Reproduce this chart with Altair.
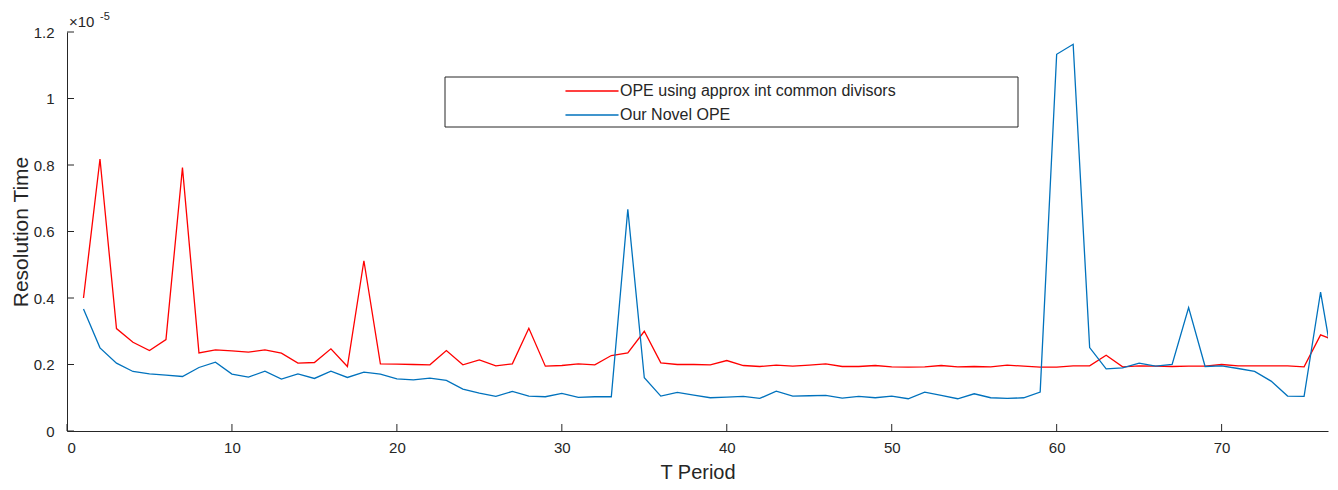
import altair as alt
import pandas as pd

# T period values (x axis)
t_period = list(range(1, 78))

# Resolution time, in units of 1e-5
ope_approx = [
    0.400, 0.818, 0.308, 0.267, 0.242, 0.275, 0.792, 0.235, 0.244, 0.241,
    0.237, 0.244, 0.234, 0.204, 0.206, 0.247, 0.194, 0.512, 0.202, 0.201,
    0.200, 0.199, 0.242, 0.199, 0.214, 0.196, 0.202, 0.309, 0.195, 0.197,
    0.202, 0.199, 0.227, 0.235, 0.300, 0.205, 0.200, 0.200, 0.199, 0.212,
    0.197, 0.194, 0.198, 0.195, 0.198, 0.202, 0.194, 0.194, 0.197, 0.193,
    0.192, 0.193, 0.197, 0.193, 0.194, 0.193, 0.198, 0.195, 0.192, 0.192,
    0.196, 0.196, 0.228, 0.193, 0.196, 0.195, 0.194, 0.195, 0.195, 0.200,
    0.196, 0.196, 0.196, 0.196, 0.193, 0.289, 0.270,
]
ope_novel = [
    0.367, 0.250, 0.204, 0.179, 0.172, 0.168, 0.164, 0.191, 0.207, 0.171,
    0.162, 0.180, 0.156, 0.172, 0.158, 0.180, 0.161, 0.177, 0.171, 0.157,
    0.154, 0.159, 0.152, 0.126, 0.114, 0.104, 0.119, 0.105, 0.103, 0.113,
    0.101, 0.103, 0.103, 0.667, 0.160, 0.105, 0.116, 0.108, 0.100, 0.102,
    0.104, 0.098, 0.120, 0.105, 0.106, 0.107, 0.099, 0.104, 0.100, 0.105,
    0.097, 0.117, 0.107, 0.097, 0.112, 0.100, 0.098, 0.100, 0.117, 1.133,
    1.163, 0.251, 0.187, 0.190, 0.204, 0.195, 0.200, 0.371, 0.194, 0.196,
    0.188, 0.179, 0.150, 0.105, 0.104, 0.418, 0.130,
]

series_names = ["OPE using approx int common divisors", "Our Novel OPE"]
series_colors = ["#FF0000", "#0072BD"]

x_ticks = [0, 10, 20, 30, 40, 50, 60, 70]
y_ticks = [0, 0.2, 0.4, 0.6, 0.8, 1.0, 1.2]

df = pd.DataFrame({
    "T": t_period * 2,
    "value": ope_approx + ope_novel,
    "series": [series_names[0]] * len(t_period) + [series_names[1]] * len(t_period),
})

FONT = "Liberation Sans"
AX = "#262626"
W, H = 1261, 399

xscale = alt.Scale(domain=[0, 76.45], nice=False, zero=False)
yscale = alt.Scale(domain=[0, 1.2], nice=False)

box = alt.Chart(pd.DataFrame({"a": [0]})).mark_rect(
    fill="white", stroke=AX, strokeWidth=1
).encode(x=alt.value(378), x2=alt.value(951), y=alt.value(45), y2=alt.value(95))

lines = alt.Chart(df).mark_line(strokeWidth=1.3, clip=True).encode(
    x=alt.X("T:Q", scale=xscale,
            axis=alt.Axis(values=x_ticks, title="T Period", ticks=False, tickSize=0,
                          labelPadding=9, titlePadding=7, titleFontSize=20, grid=False)),
    y=alt.Y("value:Q", scale=yscale,
            axis=alt.Axis(values=y_ticks, title="Resolution Time", format=".1~f",
                          ticks=False, tickSize=0, labelPadding=13, titlePadding=2,
                          titleFontSize=21, grid=False)),
    color=alt.Color("series:N",
                    scale=alt.Scale(domain=series_names, range=series_colors),
                    sort=series_names,
                    legend=alt.Legend(title=None, orient="none", legendX=517, legendY=51,
                                      symbolType="M-4,0H4", symbolSize=176,
                                      symbolStrokeWidth=1.3, symbolFillColor="transparent",
                                      labelOffset=20,
                                      labelFontSize=16, labelFont=FONT, labelColor=AX,
                                      labelLimit=600, padding=0, rowPadding=8)),
)

xt = alt.Chart(pd.DataFrame({"t": x_ticks})).mark_rule(color=AX, strokeWidth=1).encode(
    x=alt.X("t:Q", scale=xscale), y=alt.value(H), y2=alt.value(H - 7)
)
yt = alt.Chart(pd.DataFrame({"v": y_ticks})).mark_rule(color=AX, strokeWidth=1).encode(
    y=alt.Y("v:Q", scale=yscale), x=alt.value(0), x2=alt.value(7)
)

exp1 = alt.Chart(pd.DataFrame({"a": [0]})).mark_text(
    align="left", baseline="alphabetic", fontSize=15, font=FONT, color=AX
).encode(x=alt.value(2), y=alt.value(-5), text=alt.value("×10"))
exp2 = alt.Chart(pd.DataFrame({"a": [0]})).mark_text(
    align="left", baseline="alphabetic", fontSize=11, font=FONT, color=AX
).encode(x=alt.value(33), y=alt.value(-12), text=alt.value("-5"))

chart = alt.layer(box, lines, xt, yt, exp1, exp2).properties(
    width=W, height=H,
    autosize=alt.AutoSizeParams(type="none"),
    padding={"left": 59, "top": 24, "right": 2, "bottom": 51},
).configure_view(stroke=None).configure_axis(
    domainColor=AX, domainWidth=1, labelColor=AX, titleColor=AX,
    labelFont=FONT, titleFont=FONT, labelFontSize=15,
    titleFontWeight="normal",
)

chart.save("out.html", embed_options={"renderer": "svg", "actions": False})
